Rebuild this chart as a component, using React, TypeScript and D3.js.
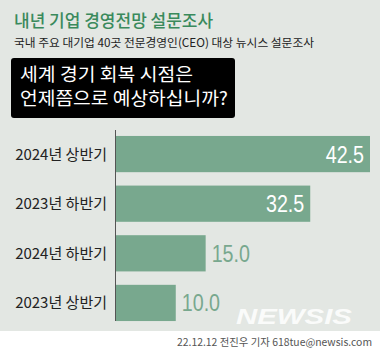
import React from "react";
import * as d3 from "d3";

const categories = ["2024년 상반기", "2023년 하반기", "2024년 하반기", "2023년 상반기"];
const values = [42.5, 32.5, 15.0, 10.0];
const insideLabel = [true, true, false, false];

const title = "내년 기업 경영전망 설문조사";
const subtitle = "국내 주요 대기업 40곳 전문경영인(CEO) 대상 뉴시스 설문조사";
const question = ["세계 경기 회복 시점은", "언제쯤으로 예상하십니까?"];
const footer = "22.12.12 전진우 기자 618tue@newsis.com";

const W = 380;
const H = 352;
const KR = "'Noto Sans CJK KR', 'Noto Sans', sans-serif";

export default function App() {
  const x0 = 116;
  const x = d3.scaleLinear().domain([0, 42.5]).range([x0, 370]);
  const y = d3.scaleBand().domain(categories).range([130, 327]).paddingInner(0.27).paddingOuter(0.12);
  const bw = y.bandwidth();

  return (
    <svg width={W} height={H} style={{ position: "absolute", left: 0, top: 0 }}>
      <rect x={0} y={0} width={W} height={H} fill="#ffffff" />
      <rect x={0} y={0} width={W} height={331} fill="#e3e7e3" />
      <text x={14} y={27} fill="#3a8a5c" fontFamily={KR} fontSize={17} fontWeight={500}>{title}</text>
      <text x={14} y={47} fill="#222" fontFamily={KR} fontSize={11.5} textLength={300} lengthAdjust="spacingAndGlyphs">{subtitle}</text>
      <rect x={11} y={58} width={224} height={60} rx={3} fill="#000" />
      {question.map((q, i) => (
        <text
          key={i}
          x={20}
          y={81 + i * 24}
          fill="#fff"
          fontFamily={KR}
          fontSize={18}
          textLength={i === 0 ? 173 : 208}
          lengthAdjust="spacingAndGlyphs"
        >{q}</text>
      ))}
      <text
        x={236}
        y={324}
        fill="#ffffff"
        fontFamily="'Liberation Sans', sans-serif"
        fontSize={22}
        fontWeight="bold"
        fontStyle="italic"
        textLength={116}
        lengthAdjust="spacingAndGlyphs"
        opacity={0.85}
      >NEWSIS</text>
      <line x1={115.5} x2={115.5} y1={130} y2={321} stroke="#555" strokeWidth={1} />
      {categories.map((c, i) => {
        const yy = y(c)!;
        const xe = x(values[i]);
        const cy = yy + bw / 2;
        const label = values[i].toFixed(1);
        return (
          <g key={c}>
            <rect x={x0} y={yy} width={xe - x0} height={bw} fill="#78a88e" />
            <text x={107} y={cy + 5.5} textAnchor="end" fill="#222" fontFamily={KR} fontSize={15}>{c}</text>
            <g transform={`translate(${insideLabel[i] ? xe - 6 : xe + 6},${cy + 8.5}) scale(0.82,1)`}>
              <text
                x={0}
                y={0}
                textAnchor={insideLabel[i] ? "end" : "start"}
                fill={insideLabel[i] ? "#ffffff" : "#78a88e"}
                fontFamily="'Liberation Sans', sans-serif"
                fontSize={24}
              >{label}</text>
            </g>
          </g>
        );
      })}
      <text x={372} y={346} textAnchor="end" fill="#555" fontFamily={KR} fontSize={10.5} textLength={195} lengthAdjust="spacingAndGlyphs">{footer}</text>
    </svg>
  );
}
